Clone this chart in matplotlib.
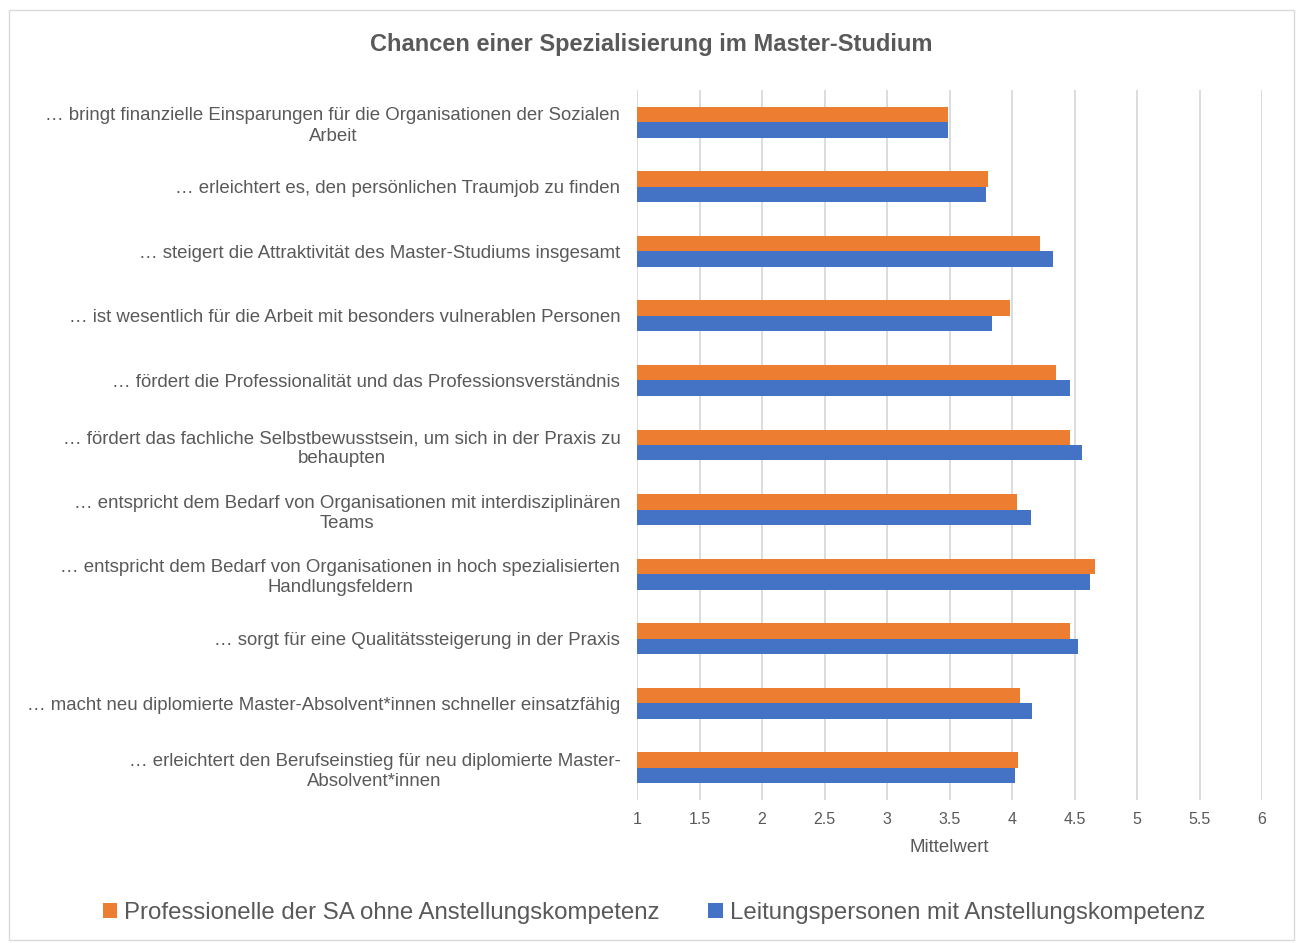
import numpy as np
import matplotlib
matplotlib.use('Agg')
import matplotlib.pyplot as plt
from matplotlib.patches import Rectangle

plt.rcParams['font.family'] = ['Liberation Sans', 'DejaVu Sans']

# Categories, top to bottom as in the chart.
categories = [
    '… bringt finanzielle Einsparungen für die Organisationen der Sozialen\nArbeit',
    '… erleichtert es, den persönlichen Traumjob zu finden',
    '… steigert die Attraktivität des Master-Studiums insgesamt',
    '… ist wesentlich für die Arbeit mit besonders vulnerablen Personen',
    '… fördert die Professionalität und das Professionsverständnis',
    '… fördert das fachliche Selbstbewusstsein, um sich in der Praxis zu\nbehaupten',
    '… entspricht dem Bedarf von Organisationen mit interdisziplinären\nTeams',
    '… entspricht dem Bedarf von Organisationen in hoch spezialisierten\nHandlungsfeldern',
    '… sorgt für eine Qualitätssteigerung in der Praxis',
    '… macht neu diplomierte Master-Absolvent*innen schneller einsatzfähig',
    '… erleichtert den Berufseinstieg für neu diplomierte Master-\nAbsolvent*innen',
]
professionelle = [3.49, 3.81, 4.22, 3.98, 4.35, 4.46, 4.04, 4.66, 4.46, 4.06, 4.05]
leitung = [3.49, 3.79, 4.33, 3.84, 4.46, 4.56, 4.15, 4.62, 4.53, 4.16, 4.02]
series_names = ['Professionelle der SA ohne Anstellungskompetenz',
                'Leitungspersonen mit Anstellungskompetenz']
xticks = [1, 1.5, 2, 2.5, 3, 3.5, 4, 4.5, 5, 5.5, 6]

ORANGE = '#ed7d31'
BLUE = '#4472c4'
GREY_TXT = '#595959'

fig = plt.figure(figsize=(12.96, 9.43), dpi=100)
ax = fig.add_axes([637 / 1296, 1 - 800 / 943, (1262 - 637) / 1296, (800 - 90) / 943])

# chart border
fig.patches.append(Rectangle((9 / 1296, 3 / 943), 1285 / 1296, 930 / 943,
                             transform=fig.transFigure, fill=False,
                             edgecolor='#d9d9d9', lw=1.0))

y = np.arange(len(categories))
h = 0.24
base = 1
ax.barh(y - h / 2, np.array(professionelle) - base, left=base, height=h,
        color=ORANGE, label=series_names[0], zorder=3)
ax.barh(y + h / 2, np.array(leitung) - base, left=base, height=h,
        color=BLUE, label=series_names[1], zorder=3)

ax.set_ylim(len(categories) - 0.5, -0.5)
ax.set_xlim(1, 6)
ax.set_xticks(xticks)
ax.set_xticklabels([f'{t:g}' for t in xticks])
ax.set_yticks(y)
ax.set_yticklabels(categories, fontsize=13.4, color=GREY_TXT,
                   multialignment='center', linespacing=1.25)
ax.tick_params(axis='y', length=0, pad=12)
ax.tick_params(axis='x', length=0, pad=9, labelsize=11.5, labelcolor=GREY_TXT)
for s in ax.spines.values():
    s.set_visible(False)
ax.grid(axis='x', color='#d9d9d9', lw=1.3, zorder=0)
ax.set_axisbelow(True)
ax.set_xlabel('Mittelwert', fontsize=13.4, color=GREY_TXT, labelpad=8)

fig.text(651 / 1296, 1 - 44 / 943, 'Chancen einer Spezialisierung im Master-Studium',
         ha='center', va='center', fontsize=17, fontweight='bold', color=GREY_TXT)

handles, labels = ax.get_legend_handles_labels()
fig.legend(handles, labels, loc='center', bbox_to_anchor=(654 / 1296, 1 - 913 / 943),
           ncol=2, frameon=False, fontsize=17.3, labelcolor=GREY_TXT,
           handlelength=0.6, handleheight=0.6, handletextpad=0.3,
           columnspacing=2.0)

plt.savefig('out.png', dpi=100)
